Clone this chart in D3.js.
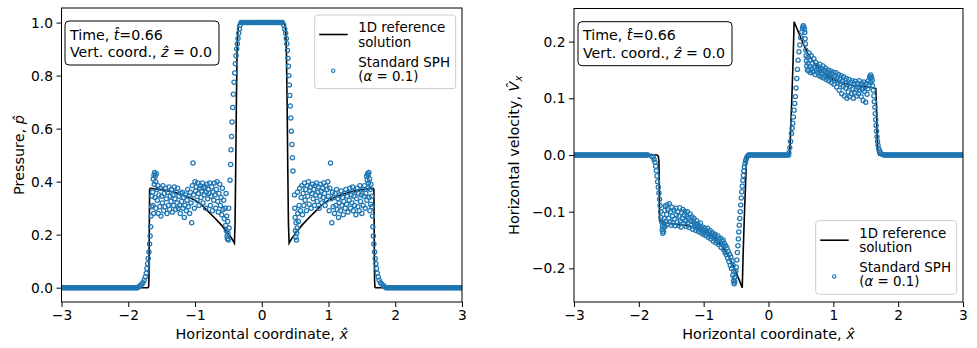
<!DOCTYPE html>
<html>
<head>
<meta charset="utf-8">
<script src="https://cdn.jsdelivr.net/npm/d3@7"></script>
<style>
  body { margin: 0; background: #fff; }
  svg text { font-family: "DejaVu Sans", sans-serif; }
</style>
</head>
<body>
<svg id="chart" width="977" height="348"></svg>
<script>
// ---- data ----
const xTicks = [-3, -2, -1, 0, 1, 2, 3];
const pTicks = [0, 0.2, 0.4, 0.6, 0.8, 1.0];
const vTicks = [-0.2, -0.1, 0, 0.1, 0.2];

// particle x positions in the dense, undisturbed regions
const flatLeftX = [-3,-2.98,-2.96,-2.94,-2.92,-2.9,-2.88,-2.86,-2.84,-2.82,-2.8,-2.78,-2.76,-2.74,-2.72,-2.7,-2.68,-2.66,-2.64,-2.62,-2.6,-2.58,-2.56,-2.54,-2.52,-2.5,-2.48,-2.46,-2.44,-2.42,-2.4,-2.38,-2.36,-2.34,-2.32,-2.3,-2.28,-2.26,-2.24,-2.22,-2.2,-2.18,-2.16,-2.14,-2.12,-2.1,-2.08,-2.06,-2.04,-2.02,-2,-1.98,-1.96,-1.94,-1.92,-1.9,-1.88,-1.86];
const flatRightX = [1.86,1.88,1.9,1.92,1.94,1.96,1.98,2,2.02,2.04,2.06,2.08,2.1,2.12,2.14,2.16,2.18,2.2,2.22,2.24,2.26,2.28,2.3,2.32,2.34,2.36,2.38,2.4,2.42,2.44,2.46,2.48,2.5,2.52,2.54,2.56,2.58,2.6,2.62,2.64,2.66,2.68,2.7,2.72,2.74,2.76,2.78,2.8,2.82,2.84,2.86,2.88,2.9,2.92,2.94,2.96,2.98,3];
const plateauX = [-0.31,-0.29,-0.27,-0.25,-0.23,-0.21,-0.19,-0.17,-0.15,-0.13,-0.11,-0.09,-0.07,-0.05,-0.03,-0.01,0.01,0.03,0.05,0.07,0.09,0.11,0.13,0.15,0.17,0.19,0.21,0.23,0.25,0.27,0.29,0.31];

// 1D reference solution, pressure
const refP = [[-3,0],[-1.705,0],[-1.695,0.003],[-1.69,0.03],[-1.685,0.2],[-1.68,0.37],[-1.67,0.375],[-1.5,0.37],[-1.3,0.36],[-1.1,0.342],[-1.0,0.33],[-0.9,0.312],[-0.8,0.287],[-0.7,0.262],[-0.6,0.235],[-0.5,0.203],[-0.45,0.186],[-0.41,0.168],[-0.4,0.24],[-0.39,0.45],[-0.38,0.7],[-0.37,0.88],[-0.36,0.96],[-0.35,0.99],[-0.33,1.0],[0.33,1.0],[0.35,0.99],[0.36,0.96],[0.37,0.88],[0.38,0.7],[0.39,0.45],[0.4,0.24],[0.41,0.168],[0.45,0.186],[0.5,0.203],[0.6,0.235],[0.7,0.262],[0.8,0.287],[0.9,0.312],[1.0,0.33],[1.1,0.342],[1.3,0.36],[1.5,0.37],[1.67,0.375],[1.68,0.37],[1.685,0.2],[1.69,0.03],[1.695,0.003],[1.705,0],[3,0]];

// SPH pressure: flanks and scattered parts
const pFlankOutL = [[-1.84,0.004],[-1.82,0.008],[-1.8,0.013],[-1.78,0.019],[-1.76,0.028],[-1.745,0.04],[-1.73,0.055],[-1.72,0.072],[-1.71,0.09],[-1.7,0.11],[-1.69,0.135],[-1.68,0.165],[-1.672,0.195],[-1.665,0.23],[-1.658,0.27],[-1.65,0.305],[-1.645,0.345]];
const pFlankOutR = [[1.645,0.345],[1.65,0.305],[1.658,0.27],[1.665,0.23],[1.672,0.195],[1.68,0.165],[1.69,0.135],[1.7,0.11],[1.71,0.09],[1.72,0.072],[1.73,0.055],[1.745,0.04],[1.76,0.028],[1.78,0.019],[1.8,0.013],[1.82,0.008],[1.84,0.004]];
const pFlankInL = [[-0.325,0.99],[-0.335,0.975],[-0.345,0.96],[-0.355,0.94],[-0.365,0.92],[-0.375,0.9],[-0.385,0.875],[-0.395,0.845],[-0.405,0.81],[-0.415,0.775],[-0.425,0.73],[-0.435,0.68],[-0.445,0.625],[-0.452,0.57],[-0.46,0.52],[-0.466,0.465],[-0.475,0.405]];
const pFlankInR = [[0.33,0.99],[0.345,0.975],[0.358,0.96],[0.368,0.94],[0.376,0.92],[0.385,0.895],[0.393,0.865],[0.4,0.835],[0.407,0.8],[0.413,0.765],[0.42,0.725],[0.427,0.685],[0.435,0.64],[0.443,0.59],[0.452,0.54],[0.46,0.49],[0.468,0.44]];
const pNoiseL = [[-1.635,0.36],[-1.63,0.31],[-1.625,0.41],[-1.62,0.28],[-1.615,0.425],[-1.61,0.39],[-1.605,0.435],[-1.6,0.34],[-1.595,0.42],[-1.59,0.4],[-1.585,0.3],[-1.58,0.43],[-1.57,0.37],[-1.565,0.33],[-1.555,0.385],[-1.55,0.28],[-1.54,0.35],[-1.53,0.305],[-1.52,0.375],[-1.51,0.27],[-1.5,0.345],[-1.49,0.32],[-1.48,0.385],[-1.47,0.29],[-1.46,0.355],[-1.45,0.305],[-1.44,0.375],[-1.43,0.335],[-1.42,0.28],[-1.41,0.36],[-1.4,0.31],[-1.39,0.38],[-1.38,0.295],[-1.37,0.345],[-1.36,0.325],[-1.35,0.37],[-1.34,0.285],[-1.33,0.35],[-1.32,0.31],[-1.31,0.38],[-1.3,0.335],[-1.29,0.295],[-1.28,0.36],[-1.27,0.32],[-1.26,0.375],[-1.25,0.3],[-1.24,0.345],[-1.23,0.31],[-1.22,0.28],[-1.21,0.355],[-1.2,0.325],[-1.19,0.36],[-1.18,0.3],[-1.17,0.34],[-1.16,0.265],[-1.15,0.31],[-1.14,0.35],[-1.13,0.29],[-1.12,0.33],[-1.11,0.37],[-1.1,0.305],[-1.09,0.345],[-1.08,0.28],[-1.07,0.36],[-1.06,0.32],[-1.05,0.245],[-1.04,0.385],[-1.03,0.47],[-1.02,0.35],[-1.01,0.3],[-1.0,0.4],[-0.99,0.365],[-0.98,0.38],[-0.97,0.33],[-0.96,0.395],[-0.95,0.355],[-0.94,0.31],[-0.93,0.375],[-0.92,0.385],[-0.91,0.34],[-0.9,0.365],[-0.89,0.395],[-0.88,0.32],[-0.87,0.375],[-0.86,0.35],[-0.85,0.38],[-0.84,0.3],[-0.83,0.36],[-0.82,0.39],[-0.81,0.335],[-0.8,0.37],[-0.79,0.355],[-0.78,0.395],[-0.77,0.31],[-0.76,0.345],[-0.75,0.38],[-0.74,0.29],[-0.73,0.36],[-0.72,0.33],[-0.71,0.395],[-0.7,0.35],[-0.69,0.3],[-0.68,0.37],[-0.67,0.4],[-0.66,0.325],[-0.65,0.285],[-0.64,0.355],[-0.63,0.39],[-0.62,0.31],[-0.61,0.34],[-0.6,0.275],[-0.59,0.375],[-0.58,0.295],[-0.57,0.33],[-0.56,0.26],[-0.55,0.3],[-0.54,0.235],[-0.535,0.355],[-0.53,0.215],[-0.525,0.27],[-0.52,0.195],[-0.515,0.185],[-0.51,0.25],[-0.505,0.205],[-0.5,0.18],[-0.495,0.3],[-0.49,0.225]];
const pNoiseR = [[0.49,0.35],[0.495,0.3],[0.5,0.265],[0.505,0.215],[0.51,0.19],[0.515,0.245],[0.52,0.18],[0.525,0.205],[0.53,0.225],[0.535,0.36],[0.54,0.28],[0.55,0.25],[0.56,0.31],[0.57,0.375],[0.58,0.29],[0.59,0.34],[0.6,0.385],[0.61,0.275],[0.62,0.355],[0.63,0.31],[0.64,0.395],[0.65,0.33],[0.66,0.37],[0.67,0.29],[0.68,0.385],[0.69,0.345],[0.7,0.4],[0.71,0.315],[0.72,0.365],[0.73,0.38],[0.74,0.3],[0.75,0.355],[0.76,0.39],[0.77,0.335],[0.78,0.37],[0.79,0.31],[0.8,0.385],[0.81,0.35],[0.82,0.395],[0.83,0.325],[0.84,0.36],[0.85,0.38],[0.86,0.3],[0.87,0.345],[0.88,0.39],[0.89,0.365],[0.9,0.32],[0.91,0.375],[0.92,0.34],[0.93,0.395],[0.94,0.355],[0.95,0.31],[0.96,0.385],[0.97,0.33],[0.98,0.37],[0.99,0.4],[1.0,0.345],[1.01,0.29],[1.02,0.375],[1.03,0.47],[1.04,0.335],[1.05,0.245],[1.06,0.36],[1.07,0.305],[1.08,0.34],[1.09,0.28],[1.1,0.355],[1.11,0.31],[1.12,0.37],[1.13,0.295],[1.14,0.335],[1.15,0.265],[1.16,0.32],[1.17,0.35],[1.18,0.29],[1.19,0.365],[1.2,0.31],[1.21,0.34],[1.22,0.275],[1.23,0.325],[1.24,0.355],[1.25,0.3],[1.26,0.37],[1.27,0.315],[1.28,0.345],[1.29,0.285],[1.3,0.36],[1.31,0.33],[1.32,0.375],[1.33,0.3],[1.34,0.35],[1.35,0.32],[1.36,0.38],[1.37,0.29],[1.38,0.345],[1.39,0.31],[1.4,0.365],[1.41,0.275],[1.42,0.335],[1.43,0.375],[1.44,0.305],[1.45,0.355],[1.46,0.29],[1.47,0.385],[1.48,0.325],[1.49,0.35],[1.5,0.28],[1.51,0.37],[1.52,0.31],[1.53,0.345],[1.54,0.385],[1.55,0.3],[1.56,0.355],[1.57,0.42],[1.575,0.33],[1.58,0.405],[1.585,0.43],[1.59,0.375],[1.595,0.425],[1.6,0.395],[1.605,0.435],[1.61,0.34],[1.615,0.41],[1.62,0.29],[1.625,0.37],[1.63,0.315],[1.635,0.39]];

// 1D reference solution, horizontal velocity
const refV = [[-3,0],[-1.72,0],[-1.7,-0.002],[-1.69,-0.01],[-1.685,-0.05],[-1.68,-0.116],[-1.6,-0.119],[-1.5,-0.121],[-1.3,-0.124],[-1.1,-0.129],[-1.0,-0.133],[-0.9,-0.14],[-0.8,-0.15],[-0.7,-0.164],[-0.6,-0.182],[-0.55,-0.194],[-0.5,-0.207],[-0.45,-0.221],[-0.405,-0.234],[-0.39,-0.17],[-0.37,-0.1],[-0.35,-0.04],[-0.34,-0.012],[-0.33,0],[0.32,0],[0.33,0.01],[0.34,0.04],[0.36,0.1],[0.38,0.17],[0.395,0.235],[0.45,0.22],[0.5,0.206],[0.55,0.193],[0.6,0.18],[0.7,0.163],[0.8,0.15],[0.9,0.14],[1.0,0.133],[1.1,0.128],[1.3,0.123],[1.5,0.12],[1.6,0.119],[1.655,0.117],[1.665,0.09],[1.675,0.04],[1.685,0.005],[1.7,0],[3,0]];

// SPH horizontal velocity
const vFlankOutL = [[-1.8,-0.002],[-1.78,-0.004],[-1.765,-0.008],[-1.75,-0.013],[-1.74,-0.02],[-1.73,-0.028],[-1.72,-0.037],[-1.71,-0.047],[-1.7,-0.057],[-1.69,-0.067],[-1.68,-0.078],[-1.672,-0.089],[-1.665,-0.1],[-1.658,-0.11]];
const vFlankOutR = [[1.615,0.114],[1.625,0.104],[1.632,0.094],[1.64,0.084],[1.647,0.073],[1.654,0.062],[1.66,0.052],[1.667,0.042],[1.674,0.032],[1.682,0.024],[1.69,0.017],[1.7,0.011],[1.712,0.007],[1.726,0.004],[1.742,0.002],[1.76,0.001],[1.78,0],[1.8,0],[1.82,0],[1.84,0]];
const vFlankInL = [[-0.515,-0.215],[-0.505,-0.205],[-0.495,-0.198],[-0.488,-0.185],[-0.48,-0.172],[-0.472,-0.16],[-0.465,-0.148],[-0.458,-0.136],[-0.45,-0.124],[-0.443,-0.112],[-0.436,-0.1],[-0.428,-0.088],[-0.42,-0.076],[-0.412,-0.065],[-0.404,-0.055],[-0.396,-0.045],[-0.388,-0.036],[-0.38,-0.028],[-0.372,-0.021],[-0.362,-0.015],[-0.352,-0.01],[-0.342,-0.006],[-0.33,-0.003]];
const vFlankInR = [[0.315,0.004],[0.328,0.013],[0.34,0.024],[0.354,0.038],[0.364,0.047],[0.374,0.056],[0.384,0.067],[0.394,0.079],[0.404,0.091],[0.415,0.103],[0.425,0.118],[0.436,0.135],[0.446,0.151],[0.456,0.167],[0.47,0.182],[0.483,0.194],[0.498,0.207],[0.514,0.217],[0.525,0.224],[0.535,0.228],[0.545,0.226],[0.555,0.222]];
const vNoiseL = [[-1.645,-0.118],[-1.64,-0.132],[-1.635,-0.125],[-1.63,-0.138],[-1.625,-0.12],[-1.62,-0.135],[-1.615,-0.128],[-1.61,-0.112],[-1.6,-0.098],[-1.595,-0.126],[-1.59,-0.09],[-1.58,-0.117],[-1.57,-0.105],[-1.565,-0.088],[-1.555,-0.122],[-1.55,-0.097],[-1.54,-0.112],[-1.53,-0.086],[-1.52,-0.118],[-1.51,-0.1],[-1.5,-0.124],[-1.49,-0.092],[-1.48,-0.108],[-1.47,-0.12],[-1.46,-0.097],[-1.45,-0.113],[-1.44,-0.125],[-1.43,-0.094],[-1.42,-0.106],[-1.41,-0.118],[-1.4,-0.1],[-1.39,-0.124],[-1.38,-0.108],[-1.37,-0.093],[-1.36,-0.116],[-1.35,-0.127],[-1.34,-0.102],[-1.33,-0.112],[-1.32,-0.096],[-1.31,-0.121],[-1.3,-0.106],[-1.29,-0.099],[-1.28,-0.117],[-1.27,-0.126],[-1.26,-0.108],[-1.25,-0.1],[-1.24,-0.119],[-1.23,-0.111],[-1.22,-0.128],[-1.21,-0.104],[-1.2,-0.116],[-1.19,-0.124],[-1.18,-0.109],[-1.17,-0.131],[-1.16,-0.118],[-1.15,-0.112],[-1.14,-0.126],[-1.13,-0.121],[-1.12,-0.133],[-1.11,-0.116],[-1.1,-0.128],[-1.09,-0.122],[-1.08,-0.135],[-1.07,-0.125],[-1.06,-0.13],[-1.05,-0.12],[-1.04,-0.137],[-1.03,-0.127],[-1.02,-0.132],[-1.01,-0.14],[-1.0,-0.128],[-0.99,-0.135],[-0.98,-0.13],[-0.97,-0.142],[-0.96,-0.134],[-0.95,-0.138],[-0.94,-0.129],[-0.93,-0.145],[-0.92,-0.136],[-0.91,-0.141],[-0.9,-0.133],[-0.89,-0.148],[-0.88,-0.139],[-0.87,-0.144],[-0.86,-0.137],[-0.85,-0.152],[-0.84,-0.142],[-0.83,-0.147],[-0.82,-0.14],[-0.81,-0.155],[-0.8,-0.146],[-0.79,-0.151],[-0.78,-0.143],[-0.77,-0.158],[-0.76,-0.149],[-0.75,-0.155],[-0.74,-0.147],[-0.73,-0.163],[-0.72,-0.152],[-0.71,-0.158],[-0.7,-0.15],[-0.69,-0.167],[-0.68,-0.156],[-0.67,-0.172],[-0.66,-0.16],[-0.65,-0.176],[-0.64,-0.164],[-0.63,-0.182],[-0.62,-0.17],[-0.61,-0.188],[-0.6,-0.175],[-0.59,-0.195],[-0.58,-0.18],[-0.57,-0.2],[-0.56,-0.187],[-0.55,-0.212],[-0.545,-0.195],[-0.54,-0.222],[-0.535,-0.205],[-0.53,-0.227],[-0.525,-0.216],[-0.52,-0.224]];
const vNoiseR = [[0.56,0.216],[0.565,0.205],[0.57,0.196],[0.575,0.185],[0.58,0.175],[0.585,0.166],[0.59,0.157],[0.6,0.15],[0.605,0.172],[0.61,0.162],[0.62,0.148],[0.625,0.18],[0.635,0.156],[0.64,0.168],[0.65,0.145],[0.66,0.175],[0.67,0.152],[0.68,0.162],[0.69,0.147],[0.7,0.17],[0.71,0.155],[0.72,0.142],[0.73,0.163],[0.74,0.15],[0.75,0.158],[0.76,0.145],[0.77,0.153],[0.78,0.14],[0.79,0.16],[0.8,0.148],[0.81,0.138],[0.82,0.152],[0.83,0.144],[0.84,0.157],[0.85,0.136],[0.86,0.149],[0.87,0.141],[0.88,0.153],[0.89,0.133],[0.9,0.146],[0.91,0.139],[0.92,0.15],[0.93,0.131],[0.94,0.144],[0.95,0.137],[0.96,0.148],[0.97,0.128],[0.98,0.142],[0.99,0.134],[1.0,0.146],[1.01,0.125],[1.02,0.139],[1.03,0.131],[1.04,0.145],[1.05,0.12],[1.06,0.136],[1.07,0.128],[1.08,0.142],[1.09,0.114],[1.1,0.133],[1.11,0.125],[1.12,0.14],[1.13,0.108],[1.14,0.13],[1.15,0.121],[1.16,0.138],[1.17,0.104],[1.18,0.127],[1.19,0.118],[1.2,0.135],[1.21,0.1],[1.22,0.124],[1.23,0.111],[1.24,0.133],[1.25,0.103],[1.26,0.121],[1.27,0.128],[1.28,0.108],[1.29,0.131],[1.3,0.117],[1.31,0.1],[1.32,0.125],[1.33,0.11],[1.34,0.13],[1.35,0.115],[1.36,0.104],[1.37,0.127],[1.38,0.119],[1.39,0.108],[1.4,0.131],[1.41,0.114],[1.42,0.122],[1.43,0.103],[1.44,0.126],[1.45,0.116],[1.46,0.096],[1.47,0.129],[1.48,0.112],[1.49,0.12],[1.5,0.093],[1.51,0.126],[1.52,0.107],[1.53,0.117],[1.54,0.131],[1.55,0.124],[1.56,0.138],[1.57,0.135],[1.575,0.141],[1.58,0.128],[1.59,0.137],[1.6,0.132],[1.605,0.122]];

const blue = "#1f77b4";
const tickFont = 13.8, legendFont = 13.4, boxFont = 14.2, labelFont = 14.4;
const svg = d3.select("#chart");

function at(xs, val) { return xs.map(v => [v, val]); }

const pSph = [].concat(at(flatLeftX, 0), pFlankOutL, pNoiseL, pFlankInL, at(plateauX, 1.0),
                       pFlankInR, pNoiseR, pFlankOutR, at(flatRightX, 0));
const vSph = [].concat(at(flatLeftX, 0), vFlankOutL, vNoiseL, vFlankInL, at(plateauX, 0),
                       vFlankInR, vNoiseR, vFlankOutR, at(flatRightX, 0));

// write lines of (partly italic) text into one <text>, one tspan run per line
function richText(sel, x, lines, lineHeight, size) {
  lines.forEach((parts, i) => {
    parts.forEach((p, j) => {
      const t = sel.append("tspan").text(p.t);
      if (j === 0) t.attr("x", x).attr("dy", i === 0 ? 0 : lineHeight);
      if (p.it) t.attr("font-style", "italic");
      if (p.sub) t.attr("font-size", size * 0.7).attr("dy", p.dy);
    });
  });
}

function drawPanel(p) {
  const x = d3.scaleLinear().domain([-3, 3]).range([p.left, p.right]);
  const y = d3.scaleLinear().domain(p.yDomain).range([p.bottom, p.top]);
  const g = svg.append("g");

  svg.append("clipPath").attr("id", p.id + "clip").append("rect")
    .attr("x", p.left).attr("y", p.top)
    .attr("width", p.right - p.left).attr("height", p.bottom - p.top);

  const plot = g.append("g").attr("clip-path", `url(#${p.id}clip)`);
  plot.append("path").datum(p.ref)
    .attr("d", d3.line().x(d => x(d[0])).y(d => y(d[1])))
    .attr("fill", "none").attr("stroke", "black").attr("stroke-width", 1.6);
  plot.selectAll("circle").data(p.sph).enter().append("circle")
    .attr("cx", d => x(d[0])).attr("cy", d => y(d[1]))
    .attr("r", 2.1).attr("fill", "none")
    .attr("stroke", blue).attr("stroke-width", 1.25);

  const xa = g.append("g").attr("transform", `translate(0,${p.bottom})`)
    .call(d3.axisBottom(x).tickValues(xTicks).tickFormat(d3.format("d"))
      .tickSize(5).tickPadding(3.5).tickSizeOuter(0));
  const ya = g.append("g").attr("transform", `translate(${p.left},0)`)
    .call(d3.axisLeft(y).tickValues(p.yTicks).tickFormat(d3.format(".1f"))
      .tickSize(5).tickPadding(3.5).tickSizeOuter(0));
  [xa, ya].forEach(a => {
    a.select(".domain").remove();
    a.selectAll("line").attr("stroke", "black").attr("stroke-width", 1);
    a.selectAll("text").attr("font-size", tickFont).attr("fill", "black")
      .attr("font-family", "DejaVu Sans");
  });

  g.append("rect")
    .attr("x", p.left).attr("y", p.top)
    .attr("width", p.right - p.left).attr("height", p.bottom - p.top)
    .attr("fill", "none").attr("stroke", "black").attr("stroke-width", 1);

  // axis titles
  const cx = (p.left + p.right) / 2;
  const xl = g.append("text").attr("y", 339)
    .attr("text-anchor", "middle").attr("font-size", labelFont);
  richText(xl, cx, [[{ t: "Horizontal coordinate, " }, { t: "x\u0302", it: true }]], 0, labelFont);

  const yl = g.append("text")
    .attr("transform", `translate(${p.yLabelX},${(p.top + p.bottom) / 2}) rotate(-90)`)
    .attr("text-anchor", "middle").attr("font-size", labelFont);
  richText(yl, 0, [p.yLabel], 0, labelFont);

  // info box
  const b = g.append("g").attr("transform", `translate(${p.box[0]},${p.box[1]})`);
  b.append("rect").attr("width", 154).attr("height", 44).attr("rx", 4)
    .attr("fill", "white").attr("stroke", "black").attr("stroke-width", 1);
  const bt = b.append("text").attr("y", 18.5).attr("font-size", boxFont);
  richText(bt, 5, [
    [{ t: "Time, " }, { t: "t\u0302", it: true }, { t: "=0.66" }],
    [{ t: "Vert. coord., " }, { t: "z\u0302", it: true }, { t: " = 0.0" }]
  ], 17.5, boxFont);

  // legend
  const l = g.append("g").attr("transform", `translate(${p.legend[0]},${p.legend[1]})`);
  l.append("rect").attr("width", 141).attr("height", 73.6).attr("rx", 3)
    .attr("fill", "white").attr("fill-opacity", 0.8)
    .attr("stroke", "#cccccc").attr("stroke-width", 1);
  l.append("line").attr("x1", 4.5).attr("x2", 33).attr("y1", 19.5).attr("y2", 19.5)
    .attr("stroke", "black").attr("stroke-width", 1.6);
  l.append("circle").attr("cx", 18.5).attr("cy", 55.7).attr("r", 1.7)
    .attr("fill", "none").attr("stroke", blue).attr("stroke-width", 1.1);
  const l1 = l.append("text").attr("y", 17).attr("font-size", legendFont);
  richText(l1, 43.5, [[{ t: "1D reference" }], [{ t: "solution" }]], 14.5, legendFont);
  const l2 = l.append("text").attr("y", 51.7).attr("font-size", legendFont);
  richText(l2, 43.5, [[{ t: "Standard SPH" }],
    [{ t: "(" }, { t: "\u03b1", it: true }, { t: " = 0.1)" }]], 13.8, legendFont);
}

drawPanel({
  id: "p", left: 61.5, right: 462, top: 8, bottom: 302,
  yDomain: [-0.054, 1.055], yTicks: pTicks,
  ref: refP, sph: pSph, yLabelX: 23.5,
  yLabel: [{ t: "Pressure, " }, { t: "p\u0302", it: true }],
  box: [65, 21], legend: [314.7, 15]
});

drawPanel({
  id: "v", left: 574, right: 963, top: 8.5, bottom: 302,
  yDomain: [-0.2593, 0.2584], yTicks: vTicks,
  ref: refV, sph: vSph, yLabelX: 519,
  yLabel: [{ t: "Horizontal velocity, " }, { t: "V\u0302", it: true },
           { t: "x", it: true, sub: true, dy: 3 }],
  box: [578, 21.7], legend: [815.7, 220.7]
});
</script>
</body>
</html>
